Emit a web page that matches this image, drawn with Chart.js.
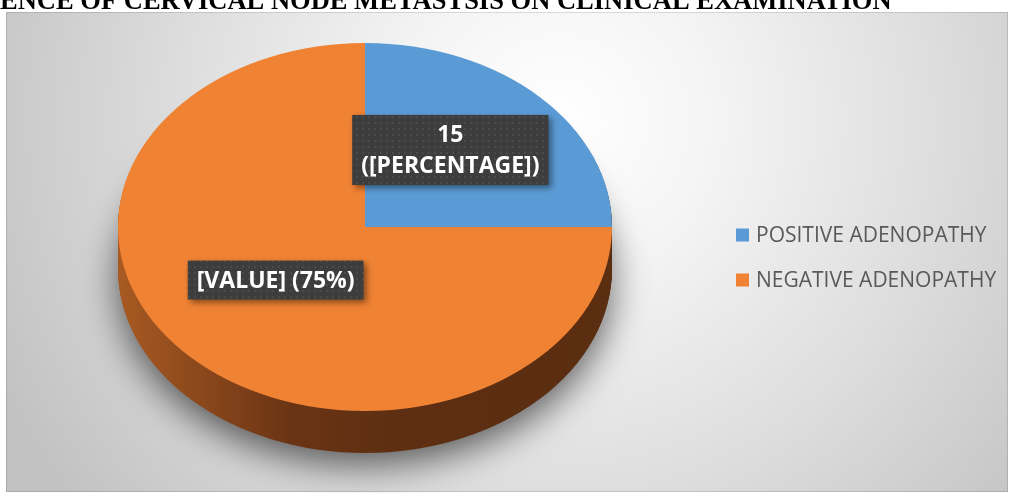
<!DOCTYPE html>
<html>
<head>
<meta charset="utf-8">
<script src="https://cdn.jsdelivr.net/npm/chart.js@4/dist/chart.umd.min.js"></script>
<style>
  html, body { margin: 0; padding: 0; background: #fff; }
  canvas { display: block; }
</style>
</head>
<body>
<canvas id="pieChart" width="1011" height="493"></canvas>
<script>
const titleText = "ENCE OF CERVICAL NODE METASTSIS ON CLINICAL EXAMINATION";
const categories = ["POSITIVE ADENOPATHY", "NEGATIVE ADENOPATHY"];
const patients = [15, 45];
const sliceColors = ["#5B9BD5", "#F08233"];
const labelFormats = ["{value}\n([PERCENTAGE])", "[VALUE] ({percent}%)"];

// where the tilted pie sits on the page
const EX = 365, EY = 227, RX = 247, RY = 184, DEPTH = 42;

function dotPattern(ctx) {
  const c = document.createElement("canvas");
  c.width = 6; c.height = 6;
  const p = c.getContext("2d");
  p.fillStyle = "#3d3d3d";
  p.fillRect(0, 0, 6, 6);
  p.fillStyle = "#4a4a4a";
  p.fillRect(2, 2, 2, 2);
  return ctx.createPattern(c, "repeat");
}

const tiltPlugin = {
  id: "tilt",
  beforeDraw(chart) {
    const ctx = chart.ctx;
    ctx.save();
    ctx.fillStyle = "#fff";
    ctx.fillRect(0, 0, chart.width, chart.height);
    const g = ctx.createRadialGradient(560, 120, 0, 560, 120, 620);
    g.addColorStop(0, "#ffffff");
    g.addColorStop(0.25, "#f4f4f4");
    g.addColorStop(0.6, "#dedede");
    g.addColorStop(1, "#c2c2c2");
    ctx.fillStyle = g;
    ctx.fillRect(6, 12, 1002, 480);
    ctx.strokeStyle = "rgba(0,0,0,0.12)";
    ctx.lineWidth = 1;
    ctx.strokeRect(6.5, 12.5, 1001, 479);

    // title, clipped by the top of the page
    ctx.font = "bold 20px 'Liberation Serif'";
    const w = ctx.measureText(titleText).width;
    const size = 20 * 892 / w;
    ctx.font = "bold " + size + "px 'Liberation Serif'";
    ctx.fillStyle = "#000";
    ctx.textBaseline = "alphabetic";
    ctx.fillText(titleText, 0, 9);
    ctx.restore();
  },
  beforeDatasetsDraw(chart) {
    const ctx = chart.ctx;
    const arcs = chart.getDatasetMeta(0).data;
    const cx = arcs[0].x, cy = arcs[0].y, r = arcs[0].outerRadius;
    const sx = RX / r, sy = RY / r;

    const side = ctx.createLinearGradient(cx - r, 0, cx + r, 0);
    side.addColorStop(0, "#A85A22");
    side.addColorStop(0.35, "#6A3414");
    side.addColorStop(0.55, "#5E2F12");
    side.addColorStop(1, "#5B2D11");

    for (let d = DEPTH; d >= 1; d--) {
      arcs.forEach(arc => {
        const keep = arc.options.backgroundColor;
        arc.options.backgroundColor = side;
        ctx.save();
        if (d === DEPTH) {
          ctx.shadowColor = "rgba(0,0,0,0.6)";
          ctx.shadowBlur = 36;
          ctx.shadowOffsetY = 12;
        }
        ctx.translate(0, d);
        ctx.translate(EX, EY);
        ctx.scale(sx, sy);
        ctx.translate(-cx, -cy);
        arc.draw(ctx);
        ctx.restore();
        arc.options.backgroundColor = keep;
      });
    }

    ctx.save();
    ctx.translate(EX, EY);
    ctx.scale(sx, sy);
    ctx.translate(-cx, -cy);
  },
  afterDatasetsDraw(chart) {
    const ctx = chart.ctx;
    ctx.restore();

    const meta = chart.getDatasetMeta(0);
    const arcs = meta.data;
    const cx = arcs[0].x, cy = arcs[0].y, r = arcs[0].outerRadius;
    const values = chart.data.datasets[0].data;
    const total = values.reduce((a, b) => a + b, 0);
    const pattern = dotPattern(ctx);

    arcs.forEach((arc, i) => {
      const pos = arc.tooltipPosition();
      const x = EX + (pos.x - cx) * RX / r - 2;
      const y = EY + (pos.y - cy) * RY / r - 12;
      const pct = Math.round(values[i] / total * 100);
      const lines = labelFormats[i]
        .replace("{value}", values[i])
        .replace("{percent}", pct)
        .split("\n");

      ctx.save();
      ctx.font = "bold 23px 'Open Sans'";
      const tw = Math.max(...lines.map(l => ctx.measureText(l).width));
      const lh = 31;
      const bw = tw + 18, bh = lines.length * lh + 8;
      ctx.shadowColor = "rgba(0,0,0,0.45)";
      ctx.shadowBlur = 6;
      ctx.shadowOffsetX = 3;
      ctx.shadowOffsetY = 3;
      ctx.fillStyle = pattern;
      ctx.fillRect(x - bw / 2, y - bh / 2, bw, bh);
      ctx.shadowColor = "transparent";
      ctx.fillStyle = "#fff";
      ctx.textAlign = "center";
      ctx.textBaseline = "middle";
      lines.forEach((l, k) => {
        ctx.fillText(l, x, y - bh / 2 + 4 + lh / 2 + k * lh + 1);
      });
      ctx.restore();
    });

    // legend
    ctx.save();
    ctx.font = "21px 'Open Sans'";
    ctx.textBaseline = "middle";
    chart.data.labels.forEach((label, i) => {
      const ly = 235 + i * 45;
      ctx.fillStyle = sliceColors[i];
      ctx.fillRect(736, ly - 6.5, 13, 13);
      ctx.fillStyle = "#595959";
      ctx.fillText(label, 756, ly + 1);
    });
    ctx.restore();
  }
};

new Chart(document.getElementById("pieChart"), {
  type: "pie",
  data: {
    labels: categories,
    datasets: [{
      data: patients,
      backgroundColor: sliceColors,
      borderWidth: 0,
      clip: false
    }]
  },
  options: {
    responsive: false,
    devicePixelRatio: 1,
    animation: false,
    layout: { padding: 20 },
    plugins: {
      legend: { display: false },
      tooltip: { enabled: false }
    }
  },
  plugins: [tiltPlugin]
});
</script>
</body>
</html>
